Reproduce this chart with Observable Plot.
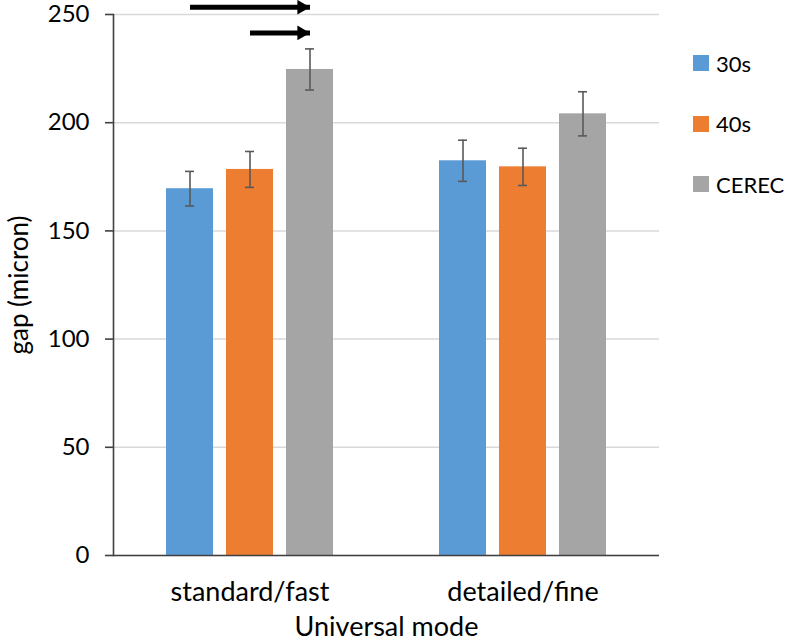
<!DOCTYPE html>
<html><head><meta charset="utf-8">
<script src="https://cdn.jsdelivr.net/npm/d3@7"></script>
<script src="https://cdn.jsdelivr.net/npm/@observablehq/plot@0.6"></script>
<style>
body{margin:0;background:#fff;font-family:Lato, sans-serif}
#wrap{position:relative;width:787px;height:640px;overflow:hidden;background:#fff}
#legend{position:absolute;left:693px;top:0;width:94px;height:640px;font-size:22px;color:#000}
.item{position:absolute;left:0;display:flex;align-items:center;white-space:nowrap;height:30px}
.sw{width:16px;height:16px;margin-right:7px;flex:none}
</style></head><body><div id="wrap"><div id="chart"></div><div id="legend"></div></div>
<script>
const modes = ["standard/fast", "detailed/fine"];
const series = ["30s", "40s", "CEREC"];
const colors = ["#5B9BD5", "#ED7D31", "#A5A5A5"];
const meanStandard = [169.5, 178.4, 224.6];
const errStandard = [8.0, 8.3, 9.5];
const meanDetailed = [182.4, 179.6, 204.1];
const errDetailed = [9.5, 8.6, 10.2];
const yTicks = [0, 50, 100, 150, 200, 250];
const yLabel = "gap (micron)";
const xLabel = "Universal mode";
const arrowFrom = ["30s", "40s"];
const arrowTo = "CEREC";
const arrowLevel = [253.4, 241.5];

const rows = [];
modes.forEach((m, i) => series.forEach((s, j) => {
  const mean = (i === 0 ? meanStandard : meanDetailed)[j];
  const err = (i === 0 ? errStandard : errDetailed)[j];
  rows.push({mode: m, series: s, mean, lo: mean - err, hi: mean + err});
}));
const arrows = arrowFrom.map((f, i) => ({mode: modes[0], from: f, to: arrowTo, level: arrowLevel[i]}));

const chart = Plot.plot({
  width: 787, height: 640,
  marginLeft: 112, marginRight: 128, marginTop: 14, marginBottom: 85,
  style: {fontFamily: "Lato, sans-serif", background: "#fff", color: "#000", overflow: "visible"},
  fx: {domain: modes, padding: 0, axis: null},
  x: {domain: series, paddingInner: 0.22, paddingOuter: 0.863, axis: null},
  y: {domain: [0, 250], axis: null},
  color: {domain: series, range: colors},
  marks: [
    Plot.gridY({ticks: yTicks, stroke: "#d9d9d9", strokeOpacity: 1, strokeWidth: 1.5}),
    Plot.barY(rows, {fx: "mode", x: "series", y: "mean", fill: "series"}),
    Plot.ruleX(rows, {fx: "mode", x: "series", y1: "lo", y2: "hi", stroke: "#595959", strokeWidth: 1.6}),
    Plot.tickY(rows, {fx: "mode", x: "series", y: "hi", stroke: "#595959", strokeWidth: 1.6, insetLeft: 19, insetRight: 19}),
    Plot.tickY(rows, {fx: "mode", x: "series", y: "lo", stroke: "#595959", strokeWidth: 1.6, insetLeft: 19, insetRight: 19}),
    Plot.ruleY([0], {stroke: "#404040", strokeWidth: 1.6}),
    Plot.frame({anchor: "left", facet: "super", stroke: "#404040", strokeWidth: 1.6}),
    Plot.axisY({ticks: yTicks, tickSize: 8, tickPadding: 16, fontSize: 24, stroke: "#404040", strokeWidth: 1.6, strokeOpacity: 1, label: null}),
    Plot.text([yLabel], {facet: "super", frameAnchor: "left", text: d => d, rotate: -90, dx: -94, fontSize: 26, textAnchor: "middle", lineAnchor: "middle", fill: "#000"}),
    Plot.axisFx({anchor: "bottom", tickSize: 0, tickPadding: 26, fontSize: 27,
      label: xLabel, labelAnchor: "center", labelOffset: 80, labelArrow: "none"}),
    Plot.link(arrows, {fx: "mode", x1: "from", x2: "to", y1: "level", y2: "level", stroke: "#000", strokeWidth: 5}),
    Plot.dot(arrows, {fx: "mode", x: "to", y: "level", symbol: "triangle", r: 5.4, fill: "#000", stroke: "none", rotate: 90, dx: -8.4})
  ]
});
document.getElementById("chart").appendChild(chart);

const legend = document.getElementById("legend");
series.forEach((s, i) => {
  const item = document.createElement("div");
  item.className = "item";
  item.style.top = (48 + i * 60.5) + "px";
  const sw = document.createElement("span");
  sw.className = "sw";
  sw.style.background = colors[i];
  const t = document.createElement("span");
  t.textContent = s;
  item.appendChild(sw); item.appendChild(t);
  legend.appendChild(item);
});
</script></body></html>
